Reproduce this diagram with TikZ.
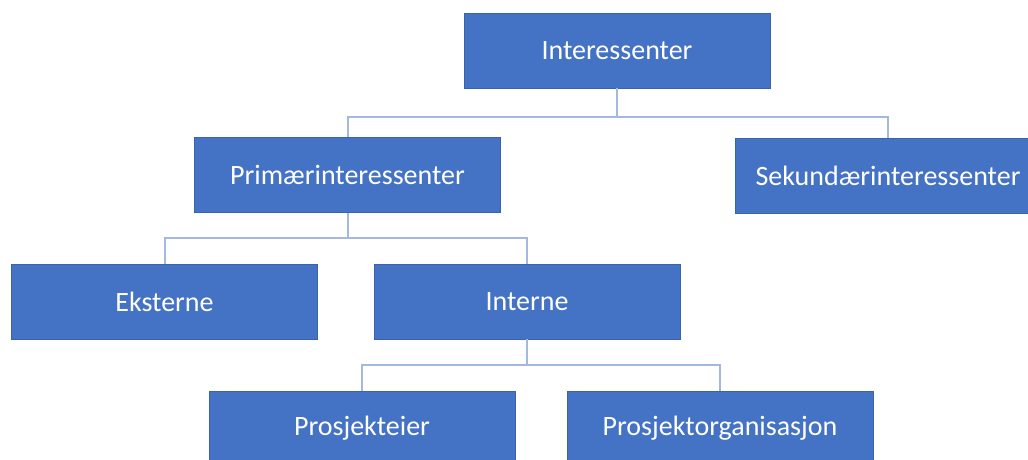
\documentclass[tikz,border=0pt]{standalone}
\usepackage{fontspec}
\setmainfont{Carlito}
\definecolor{boxblue}{HTML}{4472C4}
\definecolor{boxedge}{HTML}{3A63AD}
\definecolor{linkblue}{HTML}{A3B9E0}
\begin{document}
\begin{tikzpicture}[x=1pt,y=-1pt,
  orgbox/.style={rectangle, fill=boxblue, draw=boxedge, line width=0.8pt,
    minimum width=306pt, minimum height=75pt, text=white,
    font=\fontsize{28}{32}\selectfont},
  link/.style={draw=linkblue, line width=2pt}]
\useasboundingbox (0,0) rectangle (1028,459);
\clip (0,0) rectangle (1028,459);
\fill[white] (0,0) rectangle (1028,459);
\node[orgbox] (I)  at (617,50.5)   {Interessenter};
\node[orgbox] (P)  at (347.5,175)  {Primærinteressenter};
\node[orgbox] (S)  at (888,175.5)  {Sekundærinteressenter};
\node[orgbox] (E)  at (164.5,301.5){Eksterne};
\node[orgbox] (N)  at (527,301.5)  {Interne};
\node[orgbox] (Pe) at (362,428.5)  {Prosjekteier};
\node[orgbox] (Po) at (720,428.5)  {Prosjektorganisasjon};
\coordinate (j1) at (617,117);
\coordinate (j2) at (347.5,238);
\coordinate (j3) at (527,365);
\draw[link] (I.south) -- (j1);
\draw[link] (j1) -| (P.north);
\draw[link] (j1) -| (S.north);
\draw[link] (P.south) -- (j2);
\draw[link] (j2) -| (E.north);
\draw[link] (j2) -| (N.north);
\draw[link] (N.south) -- (j3);
\draw[link] (j3) -| (Pe.north);
\draw[link] (j3) -| (Po.north);
\end{tikzpicture}
\end{document}
